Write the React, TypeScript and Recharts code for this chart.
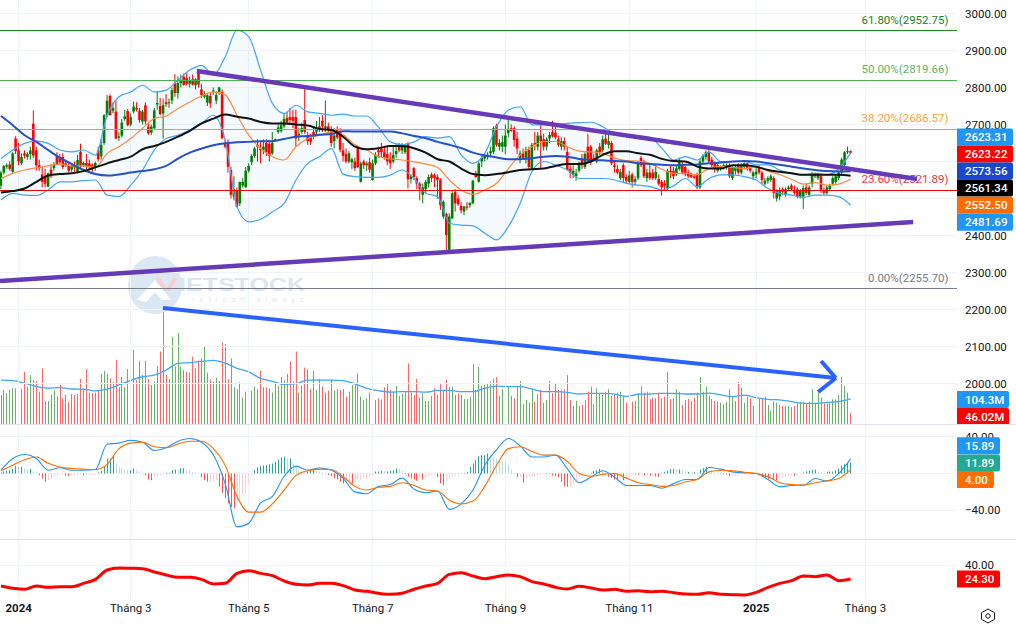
import React from "react";
import {
  ComposedChart, Bar, Line, Area, XAxis, YAxis, CartesianGrid, ReferenceLine,
} from "recharts";

type C = [number, number, number, number];

// OHLC readings, one per trading day
const candlesA: C[] = [
  [2535,2575,2525,2570],[2570,2590,2565,2588],[2586,2595,2580,2590],[2592,2600,2575,2580],[2572,2625,2570,2622],[2662,2668,2620,2628],[2630,2650,2590,2600],[2595,2622,2590,2612],[2622,2630,2608,2616],[2612,2625,2605,2620],
  [2620,2640,2605,2630],[2702,2738,2610,2616],[2630,2640,2575,2590],[2590,2605,2575,2582],[2565,2585,2530,2545],[2560,2580,2530,2540],[2532,2570,2530,2568],[2578,2592,2555,2560],[2582,2598,2575,2592],[2614,2625,2590,2592],
  [2610,2620,2590,2598],[2612,2622,2580,2585],[2595,2605,2585,2590],[2588,2600,2570,2575],[2578,2595,2572,2588],[2590,2600,2570,2584],[2570,2618,2568,2604],[2626,2648,2580,2587],[2590,2600,2585,2596],[2596,2620,2580,2586],
  [2595,2605,2576,2585],[2590,2595,2572,2580],[2584,2600,2575,2596],[2630,2640,2600,2606],[2614,2660,2605,2645],[2650,2728,2645,2725],[2725,2780,2720,2764],[2777,2782,2725,2725],[2737,2760,2730,2745],[2735,2765,2660,2662],
  [2664,2680,2655,2668],[2670,2715,2665,2705],[2715,2740,2710,2722],[2736,2742,2695,2698],[2700,2730,2695,2720],[2735,2762,2730,2748],[2745,2760,2735,2740],[2737,2745,2705,2712],[2708,2740,2700,2735],[2752,2760,2700,2708],
  [2694,2705,2672,2676],[2678,2700,2672,2694],[2690,2745,2685,2738],[2754,2790,2740,2758],[2750,2772,2725,2728],[2730,2770,2662,2752],[2760,2782,2748,2755],[2758,2770,2745,2760],[2765,2800,2755,2793],[2811,2836,2775,2785],
  [2785,2830,2770,2812],[2812,2835,2800,2818],[2829,2838,2805,2807],[2825,2840,2805,2810],[2810,2830,2800,2820],[2822,2835,2805,2808],[2806,2825,2795,2822],[2845,2848,2800,2808],[2795,2810,2772,2780],[2775,2790,2770,2782],
  [2759,2782,2750,2779],[2777,2785,2745,2757],[2788,2800,2780,2792],[2765,2790,2755,2780],[2788,2802,2780,2800],[2788,2795,2660,2663],[2650,2660,2635,2640],[2650,2660,2570,2586],[2577,2585,2500,2510],[2505,2560,2495,2525],
  [2523,2530,2476,2478],[2487,2545,2480,2545],[2535,2555,2530,2545],[2530,2585,2530,2575],[2575,2595,2570,2588],[2598,2620,2590,2615],[2615,2640,2610,2635],[2645,2660,2600,2640],[2635,2655,2595,2630],[2630,2660,2620,2640],
  [2650,2660,2615,2625],[2648,2658,2600,2615],[2622,2680,2618,2650],[2660,2662,2654,2656],[2680,2700,2675,2692],[2682,2710,2678,2698],[2695,2730,2690,2715],[2718,2735,2700,2705],[2720,2745,2700,2712],[2720,2740,2690,2710],
  [2720,2740,2640,2662],[2670,2690,2655,2675],[2680,2705,2675,2690],[2712,2796,2675,2680],[2670,2680,2645,2655],[2665,2675,2645,2653],[2680,2695,2660,2670],[2680,2710,2670,2690],[2695,2720,2680,2685],[2710,2725,2680,2695],
  [2690,2765,2680,2695],[2695,2705,2680,2685],[2685,2695,2640,2650],[2655,2690,2635,2670],[2685,2695,2660,2665],
];
const candlesB: C[] = [
  [2680,2690,2625,2632],[2630,2650,2600,2615],[2620,2635,2595,2600],[2600,2628,2595,2622],[2598,2610,2580,2606],[2600,2610,2575,2582],[2640,2642,2582,2585],[2545,2600,2543,2595],[2600,2605,2580,2590],[2590,2600,2575,2595],
  [2598,2610,2570,2578],[2550,2605,2548,2595],[2595,2625,2590,2618],[2630,2640,2610,2625],[2635,2650,2610,2625],[2625,2640,2605,2612],[2620,2640,2590,2600],[2610,2625,2580,2595],[2600,2640,2595,2618],[2620,2645,2610,2628],
  [2640,2650,2625,2630],[2630,2650,2620,2640],[2625,2648,2620,2640],[2649,2652,2527,2552],[2552,2565,2540,2560],[2582,2585,2550,2558],[2555,2560,2525,2540],[2540,2545,2495,2525],[2510,2540,2487,2530],[2525,2550,2515,2545],
  [2540,2565,2530,2558],[2565,2570,2545,2555],[2563,2568,2530,2555],[2558,2565,2500,2550],[2550,2555,2469,2482],[2451,2495,2445,2491],[2458,2462,2360,2401],[2361,2460,2358,2451],[2446,2520,2445,2514],[2518,2525,2465,2487],
  [2500,2510,2480,2485],[2480,2490,2460,2468],[2465,2480,2455,2478],[2478,2490,2468,2475],[2482,2490,2475,2488],[2487,2550,2485,2548],[2565,2575,2555,2558],[2545,2600,2543,2595],[2600,2615,2585,2610],[2608,2620,2600,2615],
  [2612,2625,2605,2618],[2622,2640,2615,2628],[2626,2695,2620,2690],[2697,2702,2640,2645],[2640,2660,2630,2650],[2640,2670,2625,2652],[2640,2700,2620,2670],[2676,2722,2665,2688],[2690,2700,2680,2683],[2690,2695,2640,2658],
  [2662,2680,2620,2635],[2608,2630,2595,2622],[2622,2635,2605,2610],[2610,2640,2595,2628],[2631,2640,2580,2585],[2582,2650,2578,2645],[2650,2680,2630,2645],[2640,2680,2630,2670],[2670,2710,2580,2655],[2660,2675,2630,2640],
  [2640,2665,2630,2660],[2662,2680,2650,2672],[2680,2710,2665,2668],[2678,2700,2660,2665],[2660,2670,2640,2645],[2640,2665,2630,2655],[2655,2665,2630,2640],[2626,2640,2575,2577],[2580,2590,2555,2570],[2565,2590,2555,2575],
  [2560,2580,2548,2568],[2575,2600,2570,2595],[2605,2620,2580,2590],[2585,2625,2580,2620],[2640,2675,2595,2600],[2640,2645,2590,2600],[2610,2620,2600,2605],[2600,2635,2595,2630],[2640,2650,2618,2625],[2630,2670,2625,2660],
  [2662,2675,2645,2648],[2645,2672,2635,2655],[2650,2655,2590,2595],[2590,2605,2570,2585],[2580,2590,2565,2570],[2555,2580,2550,2572],[2590,2595,2545,2555],[2558,2565,2540,2548],[2545,2575,2540,2562],[2565,2570,2530,2545],
  [2545,2560,2535,2552],[2555,2600,2550,2595],[2610,2615,2585,2590],[2600,2605,2555,2560],[2555,2580,2545,2570],[2570,2590,2550,2555],[2570,2580,2550,2555],[2555,2590,2550,2572],[2552,2565,2535,2540],[2545,2550,2508,2530],
  [2540,2550,2525,2535],[2527,2580,2522,2575],[2575,2590,2555,2570],[2575,2585,2552,2560],[2565,2590,2560,2582],[2580,2610,2575,2600],
];
const candlesC: C[] = [
  [2590,2598,2565,2570],[2585,2590,2560,2565],[2570,2578,2555,2560],[2565,2570,2555,2558],[2560,2565,2552,2556],[2565,2570,2525,2530],[2530,2608,2525,2600],[2600,2620,2595,2615],[2612,2630,2605,2625],[2625,2635,2595,2600],
  [2605,2612,2585,2590],[2595,2600,2570,2580],[2575,2595,2570,2590],[2580,2590,2575,2586],[2585,2595,2578,2590],[2585,2595,2578,2590],[2590,2595,2555,2560],[2555,2590,2550,2583],[2575,2590,2565,2585],[2590,2595,2565,2570],
  [2570,2595,2565,2590],[2585,2598,2578,2595],[2595,2600,2575,2580],[2585,2590,2570,2575],[2560,2575,2550,2570],[2565,2582,2555,2572],[2585,2590,2565,2570],[2570,2575,2540,2550],[2540,2555,2535,2548],[2548,2560,2540,2555],
  [2550,2565,2545,2560],[2555,2560,2500,2515],[2500,2525,2492,2520],[2505,2530,2495,2522],[2525,2530,2510,2518],[2512,2530,2505,2525],[2525,2535,2520,2530],[2535,2540,2520,2525],[2520,2535,2510,2515],[2525,2530,2500,2505],
  [2505,2525,2500,2520],[2505,2535,2472,2528],[2530,2540,2510,2515],[2510,2535,2505,2530],[2540,2572,2530,2565],[2565,2570,2555,2560],[2555,2570,2550,2566],[2560,2565,2515,2520],[2520,2530,2510,2515],[2515,2535,2510,2530],
  [2525,2540,2520,2535],[2540,2560,2535,2555],[2545,2565,2540,2560],[2555,2575,2550,2570],[2570,2610,2565,2605],[2590,2628,2585,2625],[2625,2640,2620,2628],[2628,2630,2620,2623.22],
];

// Volume in millions of shares
const volumeA = [
  121,142,128,142,149,149,146,146,218,156,204,183,179,135,232,96,96,121,138,117,
  163,107,121,93,125,121,125,188,142,229,131,128,131,142,209,221,209,190,174,267,
  153,197,153,229,177,309,183,264,204,264,188,163,177,242,302,496,204,188,364,239,
  381,239,225,218,214,281,232,264,274,322,214,186,177,193,179,339,334,186,274,153,
  145,174,111,135,135,139,156,145,222,153,153,149,131,172,158,195,183,209,260,177,
  302,131,160,235,228,146,222,142,188,156,131,139,186,139,145,
];
const volumeB = [
  142,146,114,135,163,163,211,114,100,107,131,89,100,107,103,153,170,142,135,158,
  117,125,135,253,131,121,188,110,128,96,96,117,149,121,172,142,183,156,156,121,
  128,121,104,104,114,250,142,239,158,163,170,177,190,195,117,145,145,156,117,107,
  158,179,83,100,89,145,93,125,142,89,100,179,128,172,142,142,145,204,100,75,
  97,75,79,100,135,156,83,149,125,121,135,146,117,121,131,135,114,89,128,93,
  97,128,158,131,135,103,110,107,131,107,114,217,103,107,145,135,
];
const volumeC = [
  79,100,104,97,110,131,195,135,156,118,104,96,93,89,82,93,146,114,96,175,
  152,89,114,107,75,65,104,107,114,79,54,93,89,79,75,76,75,70,75,86,
  93,93,86,93,145,86,131,111,86,86,86,103,103,121,195,158,131,46.02,
];

// MACD histogram, one per trading day
const histA = [
  1.1,2.2,2.9,3.6,5.1,8,7.2,7.2,5.4,4.3,5.1,2.2,1.1,-1.8,-5.4,-9,-7.2,-5.4,-2.9,-1.8,
  -1.1,-1.1,-2.2,-2.9,-2.2,-2.2,-1.4,-1.4,-1.8,-1.8,-1.8,-1.8,-1.1,1.1,2.9,7.2,16.3,16.3,19.9,10.9,
  7.2,5.8,4.3,3.6,3.6,5.4,2.9,2.2,1.1,-1.8,-6.5,-7.2,-2.9,-2.5,-1.8,-0.7,0.7,0.7,3.6,4.3,
  3.6,5.8,5.8,3.6,2.9,1.8,1.1,0,-4.3,-7.2,-9,-9,-8,-7.2,-14.5,-21,-27.1,-32.6,-36.2,-38,
  -30.8,-29,-22.4,-21.7,-10.9,-1.8,3.6,6.5,8,8.7,9,10.1,10.9,12.7,15.2,17.4,18.1,16.3,16.3,10.9,
  7.2,3.6,1.8,1.1,1.8,3.6,4.3,2.9,1.8,1.1,0.7,-1.8,-2.9,-5.1,-6.5,
];
const histB = [
  -9,-10.9,-10.1,-9,-10.9,-9,-7.2,-6.5,-5.4,-5.4,-3.6,-1.8,2.2,2.2,2.9,2.2,2.2,2.9,3.6,5.4,
  5.1,2.9,-0.7,-3.6,-5.4,-6.5,-8,-5.1,-6.5,-5.1,-2.9,-1.8,-1.8,-4.3,-10.9,-12.7,-8,-5.4,-3.6,-2.9,
  -2.2,-1.1,0.7,1.8,7.2,10.9,14.5,18.8,19.9,19.9,21.7,21,18.1,16.3,14.5,13.8,12.7,10.1,4.3,0.7,
  -4.3,-4.3,-10.1,-5.4,-4.3,-3.6,-2.9,-2.2,-1.8,-0.7,0.7,-0.7,-2.2,-2.9,-4.3,-9,-13.8,-14.5,-14.5,-10.9,
  -9,-3.6,-1.8,-0.7,-0.4,0.7,2.9,3.6,5.1,1.8,-1.1,-3.6,-5.1,-6.5,-7.2,-4.3,-7.2,-6.5,-2.9,-0.7,
  -1.1,-1.4,-1.1,-2.2,-2.2,-2.5,-2.5,-3.3,-3.6,0.7,1.4,2.9,4.7,5.1,4.3,4.3,
];
const histC = [
  3.6,1.8,1.8,1.1,1.4,1.1,4.3,5.8,7.2,2.9,2.2,1.1,0.7,0.7,-0.7,-1.1,-2.5,-2.2,-2.2,-1.8,
  -1.1,-1.1,-1.1,-1.1,-1.1,-0.7,-2.2,-3.3,-5.1,-5.8,-5.8,-6.5,-7.2,-6.5,-5.1,-4.3,-2.5,-2.2,-2.5,-2.2,
  -1.1,1.1,2.2,2.9,3.6,4.3,2.2,1.4,0.7,1.8,2.2,2.2,3.6,5.4,8.7,10.1,10.9,11.89,
];

// Line readings, taken every fourth trading day
const READ_EVERY = 4;
const bbUpper = [
  2608,2631,2649,2655,2649,2631,2626,2631,2617,2725,2775,2788,2806,2788,2793,2820,2847,2860,2834,2883,2955,2937,2847,2757,2730,2752,2734,2730,2725,
  2728,2723,2723,2692,2653,2645,2653,2667,2663,2667,2618,2595,2622,2694,2739,2748,2699,2699,2700,2703,2705,2706,2694,2676,2672,2670,2665,2636,2604,
  2613,2604,2626,2600,2600,2600,2591,2591,2577,2568,2564,2568,2564,2581,2623.31,
];
const bbLower = [
  2496,2514,2509,2508,2523,2545,2545,2548,2550,2509,2505,2536,2577,2631,2662,2671,2685,2703,2725,2658,2478,2437,2444,2464,2487,2550,2595,2613,2635,
  2565,2559,2557,2557,2563,2577,2554,2514,2505,2433,2428,2426,2406,2388,2424,2487,2573,2600,2590,2577,2554,2554,2554,2550,2541,2536,2532,2523,2534,
  2554,2532,2554,2564,2564,2559,2550,2527,2514,2509,2503,2509,2509,2505,2481.69,
];
const bbBasis = [
  2554,2568,2577,2583,2588,2593,2588,2588,2584,2622,2640,2662,2690,2716,2723,2743,2761,2777,2788,2780,2725,2671,2635,2613,2604,2640,2662,2671,2680,
  2672,2645,2631,2613,2607,2604,2599,2593,2584,2550,2523,2511,2523,2541,2581,2618,2640,2654,2654,2640,2628,2626,2622,2609,2602,2601,2595,2579,2568,
  2568,2564,2581,2586,2584,2581,2586,2574,2564,2552,2539,2543,2536,2539,2552.5,
];
const maBlack = [
  2516,2520,2527,2545,2562,2566,2568,2574,2584,2595,2604,2613,2633,2642,2653,2667,2683,2703,2716,2727,2721,2716,2707,2703,2703,2700,2697,2688,2685,
  2667,2640,2633,2636,2642,2642,2636,2624,2606,2600,2581,2566,2563,2566,2571,2577,2579,2581,2588,2593,2593,2600,2618,2628,2628,2622,2618,2607,2601,
  2600,2586,2581,2581,2590,2590,2586,2577,2572,2568,2564,2564,2564,2564,2561.34,
];
const maBlue = [
  2723,2698,2671,2653,2631,2610,2593,2577,2566,2562,2565,2570,2574,2579,2588,2608,2624,2635,2644,2649,2652,2653,2655,2655,2661,2667,2669,2672,2674,
  2682,2681,2681,2681,2681,2676,2669,2663,2653,2645,2636,2624,2616,2611,2606,2606,2609,2613,2615,2613,2607,2604,2603,2601,2600,2595,2593,2591,2590,
  2591,2592,2595,2597,2600,2601,2600,2595,2591,2586,2581,2577,2574,2573,2573.56,
];
const volumeMa = [
  183,181,170,157,149,152,146,145,138,145,163,182,197,204,225,253,256,261,265,254,232,217,190,178,165,168,183,183,183,
  181,167,149,139,133,135,135,133,140,140,135,135,149,158,156,156,146,135,135,132,125,128,128,125,115,124,125,128,128,
  125,125,129,121,114,120,110,103,101,93,86,86,90,93,104.3,
];
const macdLine = [
  3.6,16.3,20.7,16.3,3.6,6.2,3.6,3.6,4.3,32,33,36,34,25,28,35,38,34,20,-11,-58,-54,-32,-25,-3,8,3.6,6,3.6,
  -5.4,-20,-22,-14,-12,-5,-17,-21,-19,-39,-33,-18,9,26,38,30,18,18,20,5,-10,-4,3,-4,-13,-13,-13,-16,-11,
  -6.5,-6.5,6.5,4.7,1.8,0.7,0,-6.5,-14.5,-13,-12.7,-5.4,-8,0,15.89,
];
const signalLine = [
  2.9,9,15,18,11,7,5.4,4.7,4.3,10,27,33,34,29,28,32,35,35,27,9,-25,-42,-42,-33,-18,-2,3,4.7,4.3,
  -3.6,-14,-18,-15,-14,-10,-13,-18,-19,-29,-33,-30,-14,9,27,29,24,20,20,13,0,-3,-1,0,-5,-10,-12,-14,-13,
  -9,-6.5,1.8,3.6,2.9,1.4,0,-3.6,-10,-12,-12.7,-10,-8,-5.4,4,
];
const rsiLine = [
  16.4,13.8,12.7,16.4,14.9,15.7,15.7,19.4,23.9,34.4,36.6,36.3,35.9,32.1,28.8,26.1,26.1,23.9,18.7,19.4,30.6,33.6,30.6,28,22,18.3,17.5,19.4,19.4,
  16.8,11.9,10.4,8.2,7,8.2,12.7,16.4,19.4,29.5,31.4,27.6,24.6,26.9,28.8,26.9,21.3,18.7,14.9,13,16,14.2,11.9,12.7,10.4,11.1,10,10.4,8.9,
  7.4,7,8.9,7,6.7,6.3,9.3,14.9,19.4,22.4,27.6,26.9,28.8,22.4,24.3,
];

const priceGrid = [3000, 2900, 2800, 2700, 2600, 2500, 2400, 2300, 2200, 2100, 2000];
const priceTicks = [3000, 2900, 2800, 2700, 2400, 2300, 2200, 2100, 2000];
const monthTicks = [6, 44, 84, 126, 171, 213, 256, 293];
const monthLabels = ["2024", "Tháng 3", "Tháng 5", "Tháng 7", "Tháng 9", "Tháng 11", "2025", "Tháng 3"];
const fibLevels = [
  { value: 2952.75, text: "61.80%(2952.75)", color: "#1b8a1f" },
  { value: 2819.66, text: "50.00%(2819.66)", color: "#4caf50" },
  { value: 2686.57, text: "38.20%(2686.57)", color: "#ff9800" },
  { value: 2521.89, text: "23.60%(2521.89)", color: "#f00000" },
  { value: 2255.7, text: "0.00%(2255.70)", color: "#787b86" },
];
const fibTextColor = ["#1b7f24", "#5bb85f", "#f7a33c", "#f23645", "#787b86"];

const priceTags = [
  { at: 2666, text: "2623.31", bg: "#2196f3", w: 56 },
  { at: 2620, text: "2623.22", bg: "#ff0000", w: 56 },
  { at: 2574, text: "2573.56", bg: "#1848cc", w: 56 },
  { at: 2528, text: "2561.34", bg: "#000000", w: 56 },
  { at: 2482, text: "2552.50", bg: "#ff6d00", w: 56 },
  { at: 2436, text: "2481.69", bg: "#2196f3", w: 56 },
];
const volumeTags = [
  { at: 102, text: "104.3M", bg: "#2196f3", w: 52 },
  { at: 31, text: "46.02M", bg: "#ff0000", w: 52 },
];
const macdTags = [
  { at: 30.2, text: "15.89", bg: "#2196f3", w: 43 },
  { at: 11.4, text: "11.89", bg: "#22ab94", w: 43 },
  { at: -6.5, text: "4.00", bg: "#ff6d00", w: 37 },
];
const rsiTags = [{ at: 24.3, text: "24.30", bg: "#ff0000", w: 43 }];

const candles = [...candlesA, ...candlesB, ...candlesC];
const volumes = [...volumeA, ...volumeB, ...volumeC];
const hists = [...histA, ...histB, ...histC];

const rows = candles.map(([open, high, low, close], i) => {
  const h = hists[i] ?? 0;
  const prev = hists[i - 1] ?? 0;
  const up = close >= open;
  return {
    i, open, high, low, close,
    range: [low, high],
    volume: volumes[i],
    volColor: up ? "#66b366" : "#ff6666",
    hist: h,
    histColor: h >= 0 ? (h >= prev ? "#26a69a" : "#b2dfdb") : (h < prev ? "#ff5252" : "#ffcdd2"),
  };
});

const readings = bbUpper.map((u, n) => ({
  i: n * READ_EVERY,
  band: [bbLower[n], u],
  bbU: u,
  bbL: bbLower[n],
  bbB: bbBasis[n],
  black: maBlack[n],
  blue: maBlue[n],
  volMa: volumeMa[n],
  macd: macdLine[n],
  signal: signalLine[n],
  rsi: rsiLine[n],
}));

const FONT = "Roboto, 'Liberation Sans', sans-serif";
const MARK_FONT = "'Liberation Sans', sans-serif";
const GRID = "#f0f3fa";
const BORDER = "#e0e3eb";
const X_DOMAIN: [number, number] = [-0.34, 324.07];
const AXIS_W = 59;
const tickStyle = { fill: "#131722", fontSize: 11.5, fontFamily: FONT };
const VOL_DOMAIN: [number, number] = [0, 1768];
const PRICE_DOMAIN: [number, number] = [1890.4, 3036.5];
const MACD_DOMAIN: [number, number] = [-71.2, 52.7];
const RSI_DOMAIN: [number, number] = [0.67, 68.1];

const CandleShape = (p: any) => {
  const { x, y, width, height, payload } = p;
  const cx = x + width / 2;
  const k = height / Math.max(payload.high - payload.low, 0.001);
  const top = y + (payload.high - Math.max(payload.open, payload.close)) * k;
  const bottom = y + (payload.high - Math.min(payload.open, payload.close)) * k;
  const fill = payload.close >= payload.open ? "#008000" : "#ff0000";
  return (
    <g>
      <rect x={cx - 0.5} y={y} width={1} height={height} fill={fill} />
      <rect x={cx - 1.3} y={top} width={2.6} height={Math.max(bottom - top, 1)} fill={fill} />
    </g>
  );
};

const ThinBar = (colorKey: string) => (p: any) => {
  const { x, y, width, height, payload } = p;
  const cx = Math.round(x + width / 2 - 0.5);
  return (
    <rect x={cx} y={Math.min(y, y + height)} width={1} height={Math.abs(height)} fill={payload[colorKey]} />
  );
};

const Tag = ({ viewBox, text, bg, w }: any) => {
  const x = viewBox.x + viewBox.width;
  const y = viewBox.y;
  return (
    <g>
      <path d={`M${x} ${y - 8.5}H${x + w - 2}q2 0 2 2V${y + 6.5}q0 2 -2 2H${x}Z`} fill={bg} />
      <text x={x + 8} y={y + 4.2} fill="#ffffff" fontSize={11.5} fontWeight={500} fontFamily={FONT}>
        {text}
      </text>
    </g>
  );
};

const FibLabel = ({ viewBox, text, color }: any) => (
  <text
    x={viewBox.x + viewBox.width - 8.5}
    y={viewBox.y - 7}
    textAnchor="end"
    fill={color}
    fontSize={11.5}
    fontFamily={FONT}
  >
    {text}
  </text>
);

const MonthTick = ({ x, y, payload }: any) => {
  const idx = monthTicks.indexOf(payload.value);
  const label = monthLabels[idx];
  const bold = /^\d+$/.test(label);
  return (
    <text x={x} y={y + 4} textAnchor="middle" fill="#131722" fontSize={11.5} fontWeight={bold ? 700 : 400} fontFamily={FONT}>
      {label}
    </text>
  );
};

const panel = (top: number): React.CSSProperties => ({ position: "absolute", left: 0, top });

const hiddenX = (
  <XAxis dataKey="i" type="number" domain={X_DOMAIN} allowDataOverflow hide ticks={monthTicks} />
);

const grid = (yAxisId: string, values: number[]) => (
  <CartesianGrid
    stroke={GRID}
    shapeRendering="crispEdges"
    verticalValues={monthTicks}
    horizontalValues={values}
    horizontal={values.length > 0}
    syncWithTicks={false}
    yAxisId={yAxisId}
  />
);

const TagLayer = ({ top, height, domain, tags }: any) => (
  <div style={panel(top)}>
    <ComposedChart width={1016} height={height} data={rows} margin={{ top: 0, right: 0, bottom: 0, left: 0 }}>
      {hiddenX}
      <YAxis yAxisId="t" orientation="right" width={AXIS_W} type="number" domain={domain} allowDataOverflow tick={false} tickLine={false} axisLine={false} />
      {tags.map((t: any) => (
        <ReferenceLine key={t.text} yAxisId="t" y={t.at} stroke="none" label={<Tag text={t.text} bg={t.bg} w={t.w} />} />
      ))}
    </ComposedChart>
  </div>
);

export default function App() {
  return (
    <div style={{ position: "absolute", left: 0, top: 0, width: 1016, height: 626, background: "#fff", overflow: "hidden" }}>
      {/* Volume, behind the price panel */}
      <div style={panel(0)}>
        <ComposedChart width={1016} height={424} data={rows} margin={{ top: 0, right: 0, bottom: 0, left: 0 }}>
          {hiddenX}
          <YAxis yAxisId="vol" orientation="right" width={AXIS_W} type="number" domain={VOL_DOMAIN} allowDataOverflow tick={false} tickLine={false} axisLine={false} />
          <Bar yAxisId="vol" dataKey="volume" barSize={1} shape={ThinBar("volColor")} isAnimationActive={false} />
          <Line yAxisId="vol" data={readings} dataKey="volMa" type="monotone" stroke="#42a5f5" strokeWidth={1.3} dot={false} isAnimationActive={false} />
        </ComposedChart>
      </div>

      {/* Watermark */}
      <svg width={340} height={340} style={{ position: "absolute", left: 0, top: 0 }}>
        <ellipse cx={155} cy={285} rx={27} ry={29} fill="#dbe8f3" />
        <path d="M137 300l18-20l16 20l-9 0l-7-8l-9 10z" fill="#ffffff" />
        <text x={155} y={291} fontSize={18} fontWeight={700} fontFamily={MARK_FONT} fill="#f6cfcf" textLength={24} lengthAdjust="spacingAndGlyphs">V</text>
        <text x={179} y={291} fontSize={18} fontWeight={700} fontFamily={MARK_FONT} fill="#dbe6ef" textLength={126} lengthAdjust="spacingAndGlyphs">IETSTOCK</text>
        <text x={192} y={302} fontSize={8} fontFamily={MARK_FONT} fill="#e3e8ec" textLength={112}>refresh always</text>
      </svg>

      {/* Price panel */}
      <div style={panel(0)}>
        <ComposedChart width={1016} height={424} data={rows} margin={{ top: 0, right: 0, bottom: 0, left: 0 }}>
          {grid("price", priceGrid)}
          {hiddenX}
          <YAxis
            yAxisId="price"
            orientation="right"
            width={AXIS_W}
            type="number"
            domain={PRICE_DOMAIN}
            allowDataOverflow
            ticks={priceTicks}
            interval={0}
            tickFormatter={(v: number) => v.toFixed(2)}
            tick={tickStyle}
            tickSize={0}
            tickMargin={8}
            tickLine={false}
            axisLine={false}
          />
          <Area yAxisId="price" data={readings} dataKey="band" type="monotone" stroke="none" fill="#2196f3" fillOpacity={0.05} isAnimationActive={false} activeDot={false} />
          <Line yAxisId="price" data={readings} dataKey="bbU" type="monotone" stroke="#42a5f5" strokeWidth={1.2} dot={false} isAnimationActive={false} />
          <Line yAxisId="price" data={readings} dataKey="bbL" type="monotone" stroke="#42a5f5" strokeWidth={1.2} dot={false} isAnimationActive={false} />
          <Line yAxisId="price" data={readings} dataKey="bbB" type="monotone" stroke="#ff8a3c" strokeWidth={1.2} dot={false} isAnimationActive={false} />
          {fibLevels.map((f, n) => (
            <ReferenceLine
              key={f.text}
              yAxisId="price"
              y={f.value}
              stroke={f.color}
              strokeWidth={1}
              shapeRendering="crispEdges"
              label={<FibLabel text={f.text} color={fibTextColor[n]} />}
            />
          ))}
          <Bar yAxisId="price" dataKey="range" barSize={3} shape={CandleShape} isAnimationActive={false} />
          <Line yAxisId="price" data={readings} dataKey="blue" type="monotone" stroke="#2450c8" strokeWidth={2} dot={false} isAnimationActive={false} />
          <Line yAxisId="price" data={readings} dataKey="black" type="monotone" stroke="#111111" strokeWidth={2} dot={false} isAnimationActive={false} />
          <ReferenceLine yAxisId="price" ifOverflow="visible" stroke="#673ab7" strokeWidth={4.5}
            segment={[{ x: 66.4, y: 2844.6 }, { x: 310.5, y: 2552.7 }]} />
          <ReferenceLine yAxisId="price" ifOverflow="visible" stroke="#673ab7" strokeWidth={4.5}
            segment={[{ x: -0.34, y: 2277 }, { x: 309.2, y: 2436.4 }]} />
          <ReferenceLine yAxisId="price" ifOverflow="visible" stroke="#2962ff" strokeWidth={4}
            segment={[{ x: 54.9, y: 2204 }, { x: 283, y: 2014.7 }]} />
          <ReferenceLine yAxisId="price" ifOverflow="visible" stroke="#2962ff" strokeWidth={4}
            segment={[{ x: 278, y: 2060.7 }, { x: 283, y: 2014.7 }]} />
          <ReferenceLine yAxisId="price" ifOverflow="visible" stroke="#2962ff" strokeWidth={4}
            segment={[{ x: 277, y: 1977 }, { x: 283, y: 2014.7 }]} />
        </ComposedChart>
      </div>

      {/* MACD panel */}
      <div style={panel(425)}>
        <ComposedChart width={1016} height={114} data={rows} margin={{ top: 0, right: 0, bottom: 0, left: 0 }}>
          {grid("macd", [40, 0, -40])}
          {hiddenX}
          <YAxis
            yAxisId="macd"
            orientation="right"
            width={AXIS_W}
            type="number"
            domain={MACD_DOMAIN}
            allowDataOverflow
            ticks={[40, -40]}
            interval={0}
            tickFormatter={(v: number) => v.toFixed(2).replace("-", "\u2212")}
            tick={tickStyle}
            tickSize={0}
            tickMargin={8}
            tickLine={false}
            axisLine={false}
          />
          <Bar yAxisId="macd" dataKey="hist" barSize={1} shape={ThinBar("histColor")} isAnimationActive={false} />
          <Line yAxisId="macd" data={readings} dataKey="macd" type="monotone" stroke="#2196f3" strokeWidth={1.1} dot={false} isAnimationActive={false} />
          <Line yAxisId="macd" data={readings} dataKey="signal" type="monotone" stroke="#ff6d00" strokeWidth={1.1} dot={false} isAnimationActive={false} />
        </ComposedChart>
      </div>

      {/* Lower panel with the time axis */}
      <div style={panel(540)}>
        <ComposedChart width={1016} height={86} data={rows} margin={{ top: 0, right: 0, bottom: 0, left: 0 }}>
          {grid("rsi", [40])}
          <XAxis
            dataKey="i"
            type="number"
            domain={X_DOMAIN}
            allowDataOverflow
            ticks={monthTicks}
            interval={0}
            height={26}
            tick={<MonthTick />}
            tickSize={0}
            tickMargin={8}
            tickLine={false}
            axisLine={false}
          />
          <YAxis
            yAxisId="rsi"
            orientation="right"
            width={AXIS_W}
            type="number"
            domain={RSI_DOMAIN}
            allowDataOverflow
            ticks={[40]}
            interval={0}
            tickFormatter={(v: number) => v.toFixed(2)}
            tick={tickStyle}
            tickSize={0}
            tickMargin={8}
            tickLine={false}
            axisLine={false}
          />
          <Line yAxisId="rsi" data={readings} dataKey="rsi" type="monotone" stroke="#ff0000" strokeWidth={3} dot={false} isAnimationActive={false} />
        </ComposedChart>
      </div>

      {/* Price tags above the axis labels */}
      <TagLayer top={0} height={424} domain={PRICE_DOMAIN} tags={priceTags} />
      <TagLayer top={0} height={424} domain={VOL_DOMAIN} tags={volumeTags} />
      <TagLayer top={425} height={114} domain={MACD_DOMAIN} tags={macdTags} />
      <TagLayer top={540} height={60} domain={RSI_DOMAIN} tags={rsiTags} />

      {/* Panel separators and the settings glyph */}
      <div style={{ position: "absolute", left: 0, top: 424, width: 1016, height: 1, background: BORDER }} />
      <div style={{ position: "absolute", left: 0, top: 539, width: 1016, height: 1, background: BORDER }} />
      <svg width={20} height={20} style={{ position: "absolute", left: 978, top: 606 }}>
        <path d="M10 3L16.5 6.7V13.3L10 17L3.5 13.3V6.7Z" fill="none" stroke="#131722" strokeWidth={1} />
        <circle cx={10} cy={10} r={2.2} fill="none" stroke="#131722" strokeWidth={1} />
      </svg>
    </div>
  );
}
